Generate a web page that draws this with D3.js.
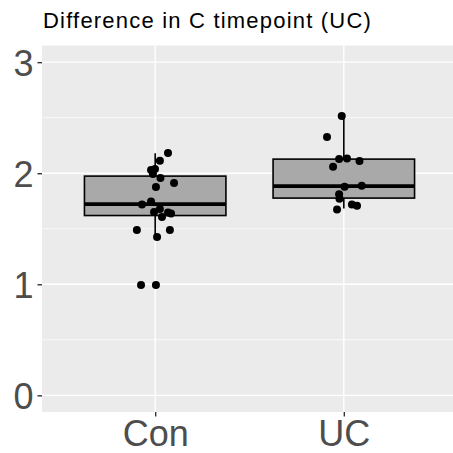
<!DOCTYPE html>
<html>
	<head>
		<meta charset="utf-8">
		<title></title>
		<style type="text/css">
			body { margin: 0; background: #fff; }
			text { font-family: "Liberation Sans", Arial, sans-serif; }
		</style>
		<script src="https://cdn.jsdelivr.net/npm/d3@7"></script>
	</head>
	<body>
		<svg height='453' width='453'></svg>
		<script>
			var categories = ["Con", "UC"];
			var yTicks = [0, 1, 2, 3];
			var yMinor = [0.5, 1.5, 2.5];

			// box stats: lower whisker, q1, median, q3, upper whisker
			var boxLo  = [1.425, 1.683];
			var boxQ1  = [1.619, 1.776];
			var boxMed = [1.722, 1.884];
			var boxQ3  = [1.974, 2.127];
			var boxHi  = [2.180, 2.514];

			// jittered points: value and horizontal jitter (fraction of category step)
			var conValues = [2.181, 2.113, 2.028, 2.037, 1.992, 1.956, 1.911, 1.875, 1.718, 1.745,
			                 1.650, 1.677, 1.605, 1.646, 1.637, 1.488, 1.488, 1.425, 0.994, 0.994];
			var conJitter = [0.068, 0.025, -0.022, -0.001, -0.012, 0.028, 0.100, 0.004, -0.070, -0.022,
			                 -0.006, 0.025, 0.036, 0.068, 0.084, -0.097, 0.078, 0.010, -0.075, 0.004];
			var ucValues = [2.516, 2.327, 2.127, 2.133, 2.109, 2.058, 1.878, 1.887, 1.810, 1.770,
			                1.719, 1.707, 1.674];
			var ucJitter = [-0.011, -0.089, -0.025, 0.017, 0.083, -0.057, 0.004, 0.095, -0.025, -0.023,
			                0.043, 0.070, -0.036];

			var points = [];
			conValues.forEach(function(v, i){ points.push({cat: "Con", v: v, j: conJitter[i]}); });
			ucValues.forEach(function(v, i){ points.push({cat: "UC", v: v, j: ucJitter[i]}); });

			var boxes = categories.map(function(c, i){
				return {cat: c, lo: boxLo[i], q1: boxQ1[i], med: boxMed[i], q3: boxQ3[i], hi: boxHi[i]};
			});

			var svg = d3.select("svg");
			// panel edges (not "top": that name is taken by window.top)
			var pLeft = 42, pRight = 457, pTop = 45.5, pBottom = 412;

			var x = d3.scalePoint().domain(categories).range([pLeft, pRight]).padding(0.6);
			var y = d3.scaleLinear().domain([-0.15, 3.15]).range([pBottom, pTop]);
			var step = x.step();
			var boxW = step * 0.75;

			// panel
			svg.append("rect")
				.attr("x", pLeft).attr("y", pTop)
				.attr("width", pRight - pLeft).attr("height", pBottom - pTop)
				.attr("fill", "#ebebeb");

			var grid = svg.append("g");
			grid.selectAll(".minor")
				.data(yMinor).enter().append("line")
				.attr("x1", pLeft).attr("x2", pRight)
				.attr("y1", function(d){ return y(d); })
				.attr("y2", function(d){ return y(d); })
				.attr("stroke", "#fff").attr("stroke-width", 0.7);
			grid.selectAll(".major")
				.data(yTicks).enter().append("line")
				.attr("x1", pLeft).attr("x2", pRight)
				.attr("y1", function(d){ return y(d); })
				.attr("y2", function(d){ return y(d); })
				.attr("stroke", "#fff").attr("stroke-width", 1.4);
			grid.selectAll(".vmajor")
				.data(categories).enter().append("line")
				.attr("x1", function(d){ return x(d); })
				.attr("x2", function(d){ return x(d); })
				.attr("y1", pTop).attr("y2", pBottom)
				.attr("stroke", "#fff").attr("stroke-width", 1.4);

			// boxplots
			var gb = svg.append("g").selectAll("g")
				.data(boxes).enter().append("g");
			gb.append("line")
				.attr("x1", function(d){ return x(d.cat); })
				.attr("x2", function(d){ return x(d.cat); })
				.attr("y1", function(d){ return y(d.q3); })
				.attr("y2", function(d){ return y(d.hi); })
				.attr("stroke", "#000").attr("stroke-width", 1.6);
			gb.append("line")
				.attr("x1", function(d){ return x(d.cat); })
				.attr("x2", function(d){ return x(d.cat); })
				.attr("y1", function(d){ return y(d.q1); })
				.attr("y2", function(d){ return y(d.lo); })
				.attr("stroke", "#000").attr("stroke-width", 1.6);
			gb.append("rect")
				.attr("x", function(d){ return x(d.cat) - boxW / 2; })
				.attr("width", boxW)
				.attr("y", function(d){ return y(d.q3); })
				.attr("height", function(d){ return y(d.q1) - y(d.q3); })
				.attr("fill", "#a9a9a9")
				.attr("stroke", "#000").attr("stroke-width", 1.6);
			gb.append("line")
				.attr("x1", function(d){ return x(d.cat) - boxW / 2; })
				.attr("x2", function(d){ return x(d.cat) + boxW / 2; })
				.attr("y1", function(d){ return y(d.med); })
				.attr("y2", function(d){ return y(d.med); })
				.attr("stroke", "#000").attr("stroke-width", 3.6);

			// points
			svg.append("g").selectAll("circle")
				.data(points).enter().append("circle")
				.attr("cx", function(d){ return x(d.cat) + d.j * step; })
				.attr("cy", function(d){ return y(d.v); })
				.attr("r", 4)
				.attr("fill", "#000");

			// axes
			var yAxis = d3.axisLeft(y).tickValues(yTicks).tickFormat(d3.format("d")).tickSize(4.5).tickPadding(4);
			var gy = svg.append("g").attr("transform", "translate(" + pLeft + ",0)").call(yAxis);
			var xAxis = d3.axisBottom(x).tickSize(4.5).tickPadding(3);
			var gx = svg.append("g").attr("transform", "translate(0," + pBottom + ")").call(xAxis);

			[gy, gx].forEach(function(g){
				g.select(".domain").remove();
				g.selectAll(".tick line").attr("stroke", "#333").attr("stroke-width", 1.4);
				g.selectAll(".tick text")
					.attr("fill", "#4d4d4d")
					.style("font-family", "'Liberation Sans', Arial, sans-serif")
					.style("font-size", "36px");
			});
			gy.selectAll(".tick text").attr("dy", "0.36em");
			gx.selectAll(".tick text").attr("dy", "0.74em");

			svg.append("text")
				.attr("x", 43).attr("y", 28)
				.attr("fill", "#000")
				.style("font-size", "22px")
				.style("letter-spacing", "1.2px")
				.text("Difference in C timepoint (UC)");
		</script>
	</body>
</html>
